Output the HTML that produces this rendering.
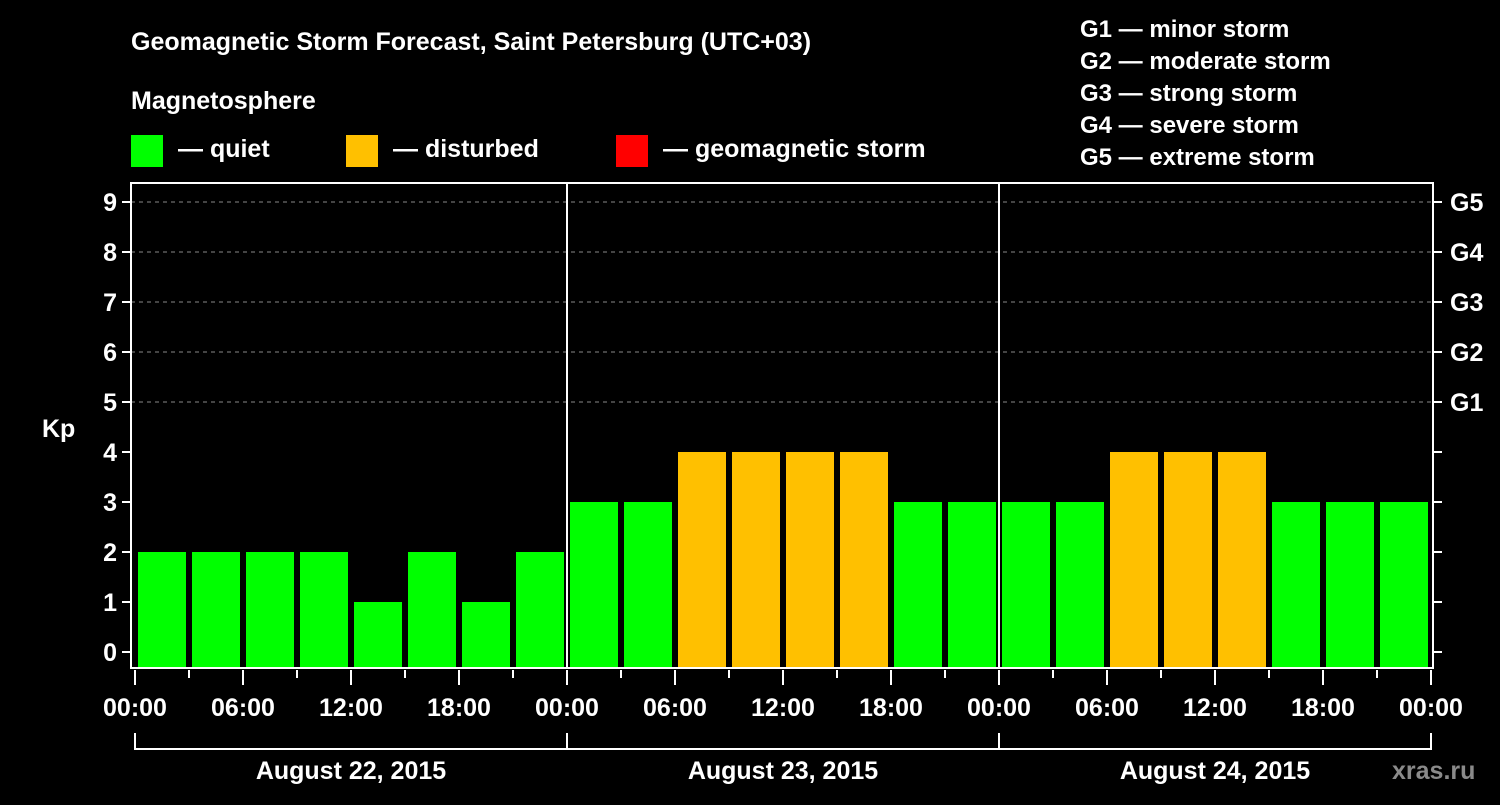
<!DOCTYPE html>
<html><head><meta charset="utf-8"><style>
body{margin:0;background:#000;width:1500px;height:800px;overflow:hidden}
svg text{font-family:"Liberation Sans",Arial,sans-serif;font-weight:bold;fill:#fff}
</style></head><body>
<svg id="c" width="1500" height="800" xmlns="http://www.w3.org/2000/svg">
<text x="131" y="50" font-size="25">Geomagnetic Storm Forecast, Saint Petersburg (UTC+03)</text>
<text x="131" y="109" font-size="25">Magnetosphere</text>
<g><rect x="131" y="135" width="32" height="32" fill="#00ff00"/><text x="178" y="157" font-size="25">— quiet</text></g>
<g><rect x="346" y="135" width="32" height="32" fill="#ffc000"/><text x="393" y="157" font-size="25">— disturbed</text></g>
<g><rect x="616" y="135" width="32" height="32" fill="#ff0000"/><text x="663" y="157" font-size="25">— geomagnetic storm</text></g>
<g font-size="24">
<text x="1080" y="37" font-size="24">G1 — minor storm</text>
<text x="1080" y="69" font-size="24">G2 — moderate storm</text>
<text x="1080" y="101" font-size="24">G3 — strong storm</text>
<text x="1080" y="133" font-size="24">G4 — severe storm</text>
<text x="1080" y="165" font-size="24">G5 — extreme storm</text>
</g>
<text x="42" y="437" font-size="25">Kp</text>
<text x="1392" y="779" font-size="25" fill="#888" style="fill:#8a8a8a">xras.ru</text>
<g id="grid"></g><g id="bars"></g><g id="axes"></g>
</svg>
<script>
const days = ["August 22, 2015","August 23, 2015","August 24, 2015"];
const kpValues = [2,2,2,2,1,2,1,2, 3,3,4,4,4,4,3,3, 3,3,4,4,4,3,3,3];
const yTicks = [0,1,2,3,4,5,6,7,8,9];
const gLabels = ["G1","G2","G3","G4","G5"];
const xTickLabels = ["00:00","06:00","12:00","18:00"];
const NS="http://www.w3.org/2000/svg";
const L=131,R=1433,T=183,B=668,X0=135,DAYW=432;
const y=v=>652-v*50;
const x=i=>X0+i*DAYW/8;
function mk(tag,a,parent){const e=document.createElementNS(NS,tag);for(const k in a)e.setAttribute(k,a[k]);parent.appendChild(e);return e;}
const grid=document.getElementById('grid'),bars=document.getElementById('bars'),axes=document.getElementById('axes');
for(let v=5;v<=9;v++){const l=mk('line',{x1:L,x2:R,y1:y(v),y2:y(v),stroke:'#888','stroke-dasharray':'4,4','stroke-width':1},grid);

}
kpValues.forEach((v,i)=>{const c=v>=5?'#ff0000':(v>=4?'#ffc000':'#00ff00');
const r=mk('rect',{x:x(i)+3,y:y(v),width:48,height:B-y(v),fill:c},bars);

});
const f=mk('rect',{x:L,y:T,width:R-L,height:B-T,fill:'none',stroke:'#fff','stroke-width':2},axes);


for(let d=1;d<days.length;d++){const l=mk('line',{x1:X0+d*DAYW,x2:X0+d*DAYW,y1:T,y2:B,stroke:'#fff','stroke-width':2},axes);

}
yTicks.forEach(v=>{mk('line',{x1:L-9,x2:L,y1:y(v),y2:y(v),stroke:'#fff','stroke-width':2},axes);
mk('line',{x1:R,x2:R+9,y1:y(v),y2:y(v),stroke:'#fff','stroke-width':2},axes);
const t=mk('text',{x:L-14,y:y(v)+9,'text-anchor':'end','font-size':25},axes);t.textContent=v;

});
gLabels.forEach((g,i)=>{const t=mk('text',{x:1450,y:y(5+i)+9,'font-size':25},axes);t.textContent=g;

});
for(let i=0;i<=24;i++){const major=i%2===0;mk('line',{x1:x(i),x2:x(i),y1:B+2,y2:B+(major?17:10),stroke:'#fff','stroke-width':2},axes);
if(major){const t=mk('text',{x:x(i),y:716,'text-anchor':'middle','font-size':25},axes);t.textContent=xTickLabels[(i/2)%4];

}}
days.forEach((d,k)=>{const x1=X0+k*DAYW,x2=x1+DAYW;
mk('path',{d:`M${x1} 733V749H${x2}V733`,fill:'none',stroke:'#fff','stroke-width':2},axes);
const t=mk('text',{x:(x1+x2)/2,y:779,'text-anchor':'middle','font-size':25},axes);t.textContent=d;

});
</script>
</body></html>
